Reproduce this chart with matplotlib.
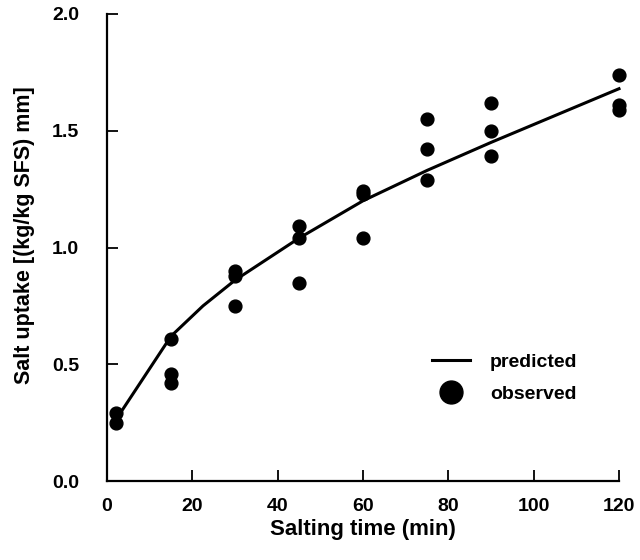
import matplotlib.pyplot as plt
from matplotlib.lines import Line2D

plt.rcParams["font.family"] = ["Liberation Sans", "DejaVu Sans"]
plt.rcParams["font.weight"] = "bold"

# observed salt uptake, three replicates per salting time
obs_time = [2, 2, 15, 15, 15, 30, 30, 30, 45, 45, 45, 60, 60, 60,
            75, 75, 75, 90, 90, 90, 120, 120, 120]
obs_uptake = [0.29, 0.25, 0.61, 0.46, 0.42, 0.90, 0.88, 0.75, 1.09, 1.04, 0.85,
              1.24, 1.23, 1.04, 1.55, 1.42, 1.29, 1.62, 1.50, 1.39, 1.74, 1.61, 1.59]

# model prediction
pred_time = [2, 15, 22.5, 30, 45, 60, 75, 90, 120]
pred_uptake = [0.26, 0.62, 0.75, 0.86, 1.04, 1.20, 1.33, 1.45, 1.68]

xticks = [0, 20, 40, 60, 80, 100, 120]
yticks = [0.0, 0.5, 1.0, 1.5, 2.0]

fig = plt.figure(figsize=(6.4, 5.6), dpi=100)
ax = fig.add_axes([107 / 640, 1 - 481 / 560, 512 / 640, 467 / 560])

ax.plot(pred_time, pred_uptake, color="black", lw=2.2, clip_on=False, zorder=2)
ax.scatter(obs_time, obs_uptake, s=85, color="black", clip_on=False, zorder=3)

ax.set_xlim(0, 120)
ax.set_ylim(0, 2.0)
ax.set_xticks(xticks)
ax.set_yticks(yticks)
ax.set_yticklabels([f"{v:.1f}" for v in yticks])
ax.tick_params(direction="in", length=8, width=1.3, labelsize=14)
ax.tick_params(axis="y", pad=20)
ax.tick_params(axis="x", pad=12)
for side in ["top", "right"]:
    ax.spines[side].set_visible(False)
for side in ["left", "bottom"]:
    ax.spines[side].set_linewidth(1.6)

ax.set_xlabel("Salting time (min)", fontsize=16, fontweight="bold", labelpad=3)
ax.set_ylabel("Salt uptake [(kg/kg SFS) mm]", fontsize=15.5, fontweight="bold")
ax.yaxis.set_label_coords(-0.14, 0.527)

handles = [
    Line2D([], [], color="black", lw=2.2),
    Line2D([], [], color="black", marker="o", ls="none", markersize=16.5),
]
fig.legend(handles, ["predicted", "observed"], loc="center left",
           bbox_to_anchor=(414 / 640, 1 - 378 / 560), frameon=False,
           fontsize=14, handlelength=2.0, handletextpad=1.0, labelspacing=0.75)

fig.savefig("out.png", dpi=100)
